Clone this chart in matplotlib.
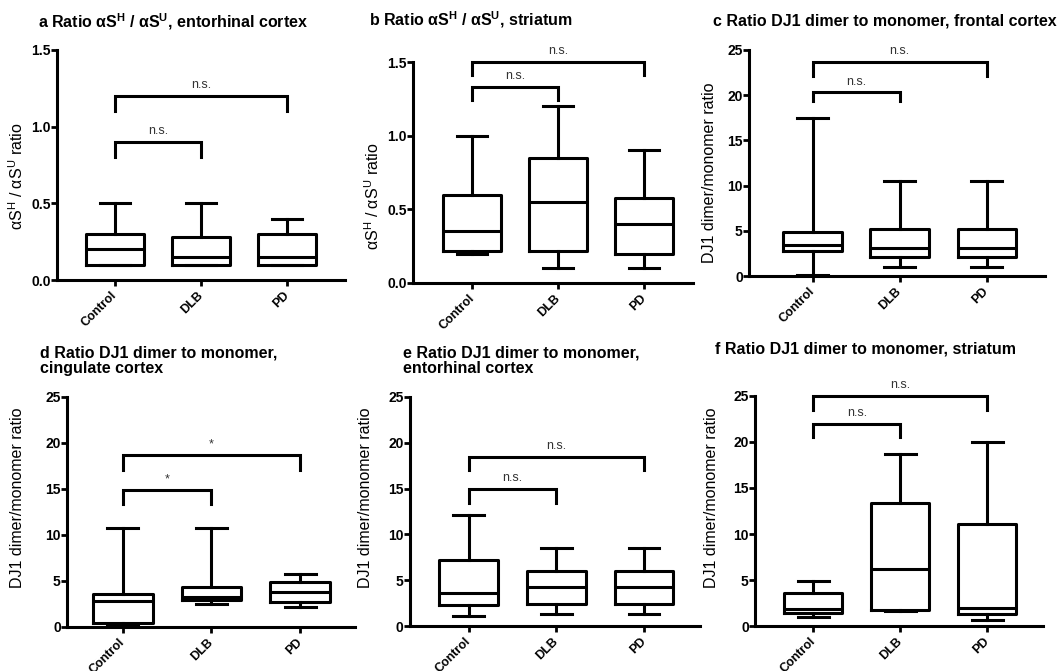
import matplotlib
matplotlib.use('Agg')
import matplotlib.pyplot as plt

plt.rcParams['font.family'] = ['Liberation Sans', 'DejaVu Sans']
plt.rcParams['mathtext.fontset'] = 'custom'
plt.rcParams['mathtext.rm'] = 'Liberation Sans'
plt.rcParams['mathtext.bf'] = 'Liberation Sans:bold'
plt.rcParams['mathtext.it'] = 'Liberation Sans:italic'

groups = ['Control', 'DLB', 'PD']

# per group: [whisker low, Q1, median, Q3, whisker high]
a_boxes = [[0.1, 0.1, 0.2, 0.3, 0.5], [0.1, 0.1, 0.15, 0.28, 0.5], [0.1, 0.1, 0.15, 0.3, 0.4]]
b_boxes = [[0.2, 0.22, 0.35, 0.6, 1.0], [0.1, 0.22, 0.55, 0.85, 1.2], [0.1, 0.2, 0.4, 0.58, 0.9]]
c_boxes = [[0.1, 2.8, 3.45, 4.9, 17.5], [1.05, 2.1, 3.1, 5.2, 10.5], [1.05, 2.1, 3.1, 5.2, 10.5]]
d_boxes = [[0.2, 0.4, 2.8, 3.55, 10.8], [2.55, 2.95, 3.3, 4.35, 10.8], [2.2, 2.7, 3.8, 4.9, 5.8]]
e_boxes = [[1.1, 2.25, 3.55, 7.2, 12.1], [1.3, 2.35, 4.3, 6.05, 8.5], [1.3, 2.35, 4.3, 6.05, 8.5]]
f_boxes = [[0.95, 1.45, 1.9, 3.55, 4.9], [1.65, 1.75, 6.15, 13.4, 18.7], [0.65, 1.3, 2.0, 11.1, 20.0]]

# comparison brackets: (group a, group b, bar height, leg bottom, label)
a_brackets = [(1, 2, 0.9, 0.8, 'n.s.'), (1, 3, 1.2, 1.1, 'n.s.')]
b_brackets = [(1, 2, 1.33, 1.24, 'n.s.'), (1, 3, 1.5, 1.41, 'n.s.')]
c_brackets = [(1, 2, 20.3, 19.4, 'n.s.'), (1, 3, 23.7, 22.1, 'n.s.')]
d_brackets = [(1, 2, 14.9, 13.4, '*'), (1, 3, 18.7, 17.1, '*')]
e_brackets = [(1, 2, 15.0, 13.4, 'n.s.'), (1, 3, 18.5, 17.0, 'n.s.')]
f_brackets = [(1, 2, 22.0, 20.5, 'n.s.'), (1, 3, 25.0, 23.5, 'n.s.')]

as_label = r'αS$^{\rm H}$ / αS$^{\rm U}$ ratio'
dj_label = 'DJ1 dimer/monomer ratio'

W, H = 1064, 671
fig = plt.figure(figsize=(W / 100, H / 100), dpi=100)
LW = 2.2

# panel: boxes, brackets, ymax, ystep, fmt, rect in px (l, t, r, b), xlim,
#        title lines (x, baseline y, text), ylabel (x, y, text)
panels = [
    (a_boxes, a_brackets, 1.5, 0.5, '{:.1f}', (57, 50, 345, 280), (0.33, 3.67),
     [(38, 28, r'a Ratio αS$^{\bf H}$ / αS$^{\bf U}$, entorhinal cortex')], (17, 176, as_label)),
    (b_boxes, b_brackets, 1.5, 0.5, '{:.1f}', (413, 62, 693, 283), (0.31, 3.57),
     [(369, 26, r'b Ratio αS$^{\bf H}$ / αS$^{\bf U}$, striatum')], (373, 196, as_label)),
    (c_boxes, c_brackets, 25, 5, '{:.0f}', (749, 50, 1045, 276), (0.27, 3.67),
     [(713, 25, 'c Ratio DJ1 dimer to monomer, frontal cortex')], (710, 173, dj_label)),
    (d_boxes, d_brackets, 25, 5, '{:.0f}', (67, 397, 355, 627), (0.37, 3.62),
     [(40, 357, 'd Ratio DJ1 dimer to monomer,'), (40, 373, 'cingulate cortex')], (18, 498, dj_label)),
    (e_boxes, e_brackets, 25, 5, '{:.0f}', (410, 397, 700, 626), (0.33, 3.64),
     [(403, 357, 'e Ratio DJ1 dimer to monomer,'), (403, 373, 'entorhinal cortex')], (366, 498, dj_label)),
    (f_boxes, f_brackets, 25, 5, '{:.0f}', (755, 396, 1043, 626), (0.33, 3.64),
     [(715, 354, 'f Ratio DJ1 dimer to monomer, striatum')], (712, 498, dj_label)),
]

for boxes, brackets, ymax, ystep, fmt, rect, xlim, titles, ylab in panels:
    l, t, r, b = rect
    ax = fig.add_axes([l / W, 1 - b / H, (r - l) / W, (b - t) / H])
    stats = []
    for name, v in zip(groups, boxes):
        stats.append(dict(label=name, whislo=v[0], q1=v[1], med=v[2], q3=v[3], whishi=v[4]))
    line = dict(color='black', linewidth=LW)
    ax.bxp(stats, positions=[1, 2, 3], widths=0.67, capwidths=0.35, showfliers=False,
           boxprops=line, whiskerprops=line, capprops=line, medianprops=line)

    for g1, g2, yb, yl, lab in brackets:
        ax.plot([g1, g1, g2, g2], [yl, yb, yb, yl], color='black', lw=LW,
                clip_on=False, solid_joinstyle='miter')
        ax.annotate(lab, ((g1 + g2) / 2, yb), xytext=(0, 3.5), textcoords='offset points',
                    ha='center', va='bottom', fontsize=9, color='#333333',
                    annotation_clip=False)

    ax.set_xlim(*xlim)
    ax.set_ylim(0, ymax)
    ticks = [i * ystep for i in range(int(round(ymax / ystep)) + 1)]
    ax.set_yticks(ticks)
    ax.set_yticklabels([fmt.format(v) for v in ticks], fontweight='bold', fontsize=10)
    ax.set_xticks([1, 2, 3])
    ax.set_xticklabels(groups, rotation=45, ha='right', va='center',
                       rotation_mode='anchor', fontweight='bold', fontsize=9)
    ax.tick_params(axis='y', length=4, width=2, pad=0.5)
    ax.tick_params(axis='x', length=4.5, width=2, pad=5)
    for s in ['top', 'right']:
        ax.spines[s].set_visible(False)
    for s in ['left', 'bottom']:
        ax.spines[s].set_linewidth(LW)

    for tx, ty, txt in titles:
        fig.text(tx / W, 1 - ty / H, txt, fontsize=11.5, fontweight='bold',
                 ha='left', va='baseline')
    fig.text(ylab[0] / W, 1 - ylab[1] / H, ylab[2], rotation=90, fontsize=11.5,
             ha='center', va='center')

fig.savefig('out.png', dpi=100, facecolor='white')
